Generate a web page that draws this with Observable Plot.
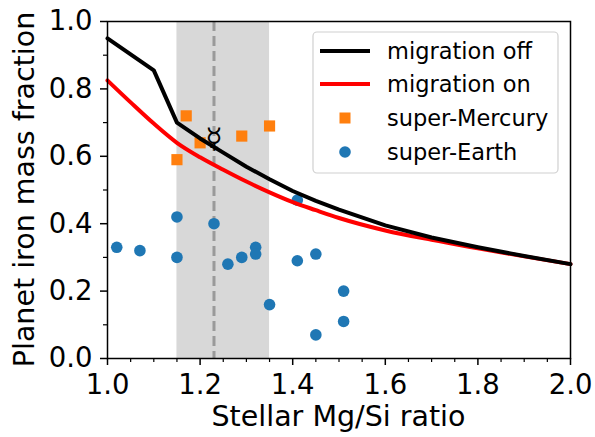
<!DOCTYPE html>
<html>
<head>
<meta charset="utf-8">
<script src="https://cdn.jsdelivr.net/npm/d3@7"></script>
<script src="https://cdn.jsdelivr.net/npm/@observablehq/plot@0.6"></script>
<style>
  html, body { margin: 0; padding: 0; background: #fff; }
  #chart { position: relative; width: 595px; height: 437px; font-family: "DejaVu Sans", sans-serif; }
</style>
</head>
<body>
<div id="chart"></div>
<script>
// ---- data ----
const offX = [1.0, 1.1, 1.15, 1.2, 1.25, 1.3, 1.35, 1.4, 1.45, 1.5, 1.6, 1.7, 1.8, 1.9, 2.0];
const offY = [0.95, 0.855, 0.70, 0.653, 0.611, 0.569, 0.532, 0.497, 0.468, 0.442, 0.395, 0.359, 0.330, 0.304, 0.28];
const onX = [1.0, 1.05, 1.1, 1.15, 1.2, 1.25, 1.3, 1.35, 1.4, 1.45, 1.5, 1.6, 1.7, 1.8, 1.9, 2.0];
const onY = [0.825, 0.76, 0.697, 0.64, 0.597, 0.56, 0.525, 0.493, 0.464, 0.44, 0.417, 0.38, 0.352, 0.327, 0.303, 0.28];
const mercX = [1.17, 1.15, 1.20, 1.29, 1.35];
const mercY = [0.72, 0.59, 0.64, 0.66, 0.69];
const earthX = [1.02, 1.07, 1.15, 1.15, 1.23, 1.26, 1.29, 1.32, 1.32, 1.35, 1.41, 1.41, 1.45, 1.45, 1.51, 1.51];
const earthY = [0.33, 0.32, 0.42, 0.30, 0.40, 0.28, 0.30, 0.33, 0.31, 0.16, 0.29, 0.47, 0.31, 0.07, 0.20, 0.11];
const spanX = [1.15, 1.35];
const solarX = 1.23;
const mercurySymbolY = 0.652;
const xMajor = [1.0, 1.2, 1.4, 1.6, 1.8, 2.0];
const xMinor = d3.range(1.05, 2.0, 0.05).filter(v => Math.abs(v * 5 - Math.round(v * 5)) > 1e-6);
const yMajor = [0.0, 0.2, 0.4, 0.6, 0.8, 1.0];
const yMinor = [0.1, 0.3, 0.5, 0.7, 0.9];
const legendLabels = ["migration off", "migration on", "super-Mercury", "super-Earth"];

const off = offX.map((x, i) => ({x, y: offY[i]}));
const on = onX.map((x, i) => ({x, y: onY[i]}));
const merc = mercX.map((x, i) => ({x, y: mercY[i]}));
const earth = earthX.map((x, i) => ({x, y: earthY[i]}));

const W = 595, H = 437;
const mL = 107, mR = 25, mT = 21, mB = 79;
const fmt = d3.format(".1f");

const plot = Plot.plot({
  width: W, height: H,
  marginLeft: mL, marginRight: mR, marginTop: mT, marginBottom: mB,
  style: {fontFamily: "DejaVu Sans, sans-serif", color: "#000", background: "#fff"},
  x: {domain: [1, 2], label: null},
  y: {domain: [0, 1], label: null},
  marks: [
    Plot.rect([{x1: spanX[0], x2: spanX[1]}], {x1: "x1", x2: "x2", y1: 0, y2: 1, fill: "#d8d8d8"}),
    Plot.ruleX([solarX], {stroke: "#9a9a9a", strokeWidth: 3, strokeDasharray: "10,5"}),
    Plot.dot(earth, {x: "x", y: "y", r: 5.8, fill: "#1f77b4", stroke: "none"}),
    Plot.dot(merc, {x: "x", y: "y", symbol: "square", r: 6.3, fill: "#ff7f0e", stroke: "none"}),
    Plot.text([{x: solarX, y: mercurySymbolY, t: "☿"}], {x: "x", y: "y", text: "t", fontSize: 28, fill: "#000", fontFamily: "DejaVu Sans"}),
    Plot.line(on, {x: "x", y: "y", stroke: "#ff0000", strokeWidth: 4, curve: "monotone-x"}),
    Plot.line(off, {x: "x", y: "y", stroke: "#000", strokeWidth: 4, curve: "linear"}),
    Plot.axisX({ticks: xMajor, tickSize: 7, tickPadding: 9, tickFormat: fmt, fontSize: 27.5, label: null, strokeWidth: 1.5}),
    Plot.axisX({ticks: xMinor, tickSize: 4, tickFormat: () => "", label: null, strokeWidth: 1.2}),
    Plot.axisY({ticks: yMajor, tickSize: 7, tickPadding: 8, tickFormat: fmt, fontSize: 27.5, label: null, strokeWidth: 1.5}),
    Plot.axisY({ticks: yMinor, tickSize: 4, tickFormat: () => "", label: null, strokeWidth: 1.2}),
    Plot.frame({stroke: "#000", strokeWidth: 1.5})
  ]
});
document.getElementById("chart").appendChild(plot);

const svg = d3.select(plot);
// axis labels
svg.append("text")
  .attr("x", mL + (W - mL - mR) / 2).attr("y", 426)
  .attr("text-anchor", "middle")
  .style("font-size", "28.5px").style("font-family", "DejaVu Sans, sans-serif")
  .attr("fill", "#000")
  .text("Stellar Mg/Si ratio");
svg.append("text")
  .attr("transform", `translate(34, ${mT + (H - mT - mB) / 2}) rotate(-90)`)
  .attr("text-anchor", "middle")
  .style("font-size", "28.5px").style("font-family", "DejaVu Sans, sans-serif")
  .attr("fill", "#000")
  .text("Planet iron mass fraction");

// legend
const lg = svg.append("g").style("font-family", "DejaVu Sans, sans-serif").attr("text-anchor", "start");
lg.append("rect").attr("x", 313).attr("y", 32).attr("width", 245).attr("height", 141)
  .attr("rx", 4).attr("fill", "#fff").attr("fill-opacity", 0.8)
  .attr("stroke", "#d0d0d0").attr("stroke-width", 1.2);
const rowsY = [51, 84, 118, 152];
lg.append("line").attr("x1", 320).attr("x2", 370).attr("y1", rowsY[0]).attr("y2", rowsY[0]).attr("stroke", "#000").attr("stroke-width", 4);
lg.append("line").attr("x1", 320).attr("x2", 370).attr("y1", rowsY[1]).attr("y2", rowsY[1]).attr("stroke", "#ff0000").attr("stroke-width", 4);
lg.append("rect").attr("x", 345 - 5.5).attr("y", rowsY[2] - 5.5).attr("width", 11).attr("height", 11).attr("fill", "#ff7f0e");
lg.append("circle").attr("cx", 345).attr("cy", rowsY[3]).attr("r", 5.8).attr("fill", "#1f77b4");
legendLabels.forEach((t, i) => {
  lg.append("text").attr("x", 387).attr("y", rowsY[i]).attr("dy", "0.36em")
    .attr("text-anchor", "start")
    .style("font-size", "22.5px").attr("fill", "#000").text(t);
});
</script>
</body>
</html>
